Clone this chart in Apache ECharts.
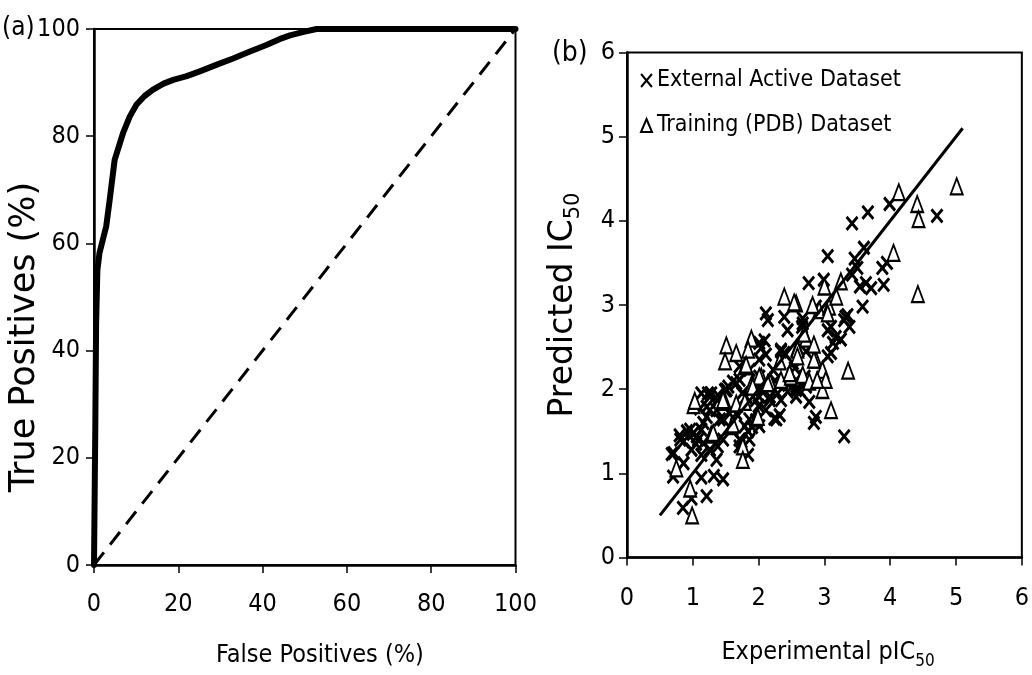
<!DOCTYPE html>
<html>
<head>
<meta charset="utf-8">
<script src="https://cdn.jsdelivr.net/npm/echarts@6.0.0/dist/echarts.min.js"></script>
<style>
  html, body { margin: 0; padding: 0; background: #fff; }
  #chart { width: 1032px; height: 675px; }
</style>
</head>
<body>
<div id="chart"></div>
<script>
// (a) ROC curve (percent)
const rocFalsePos = [0, 0.3, 0.5, 0.8, 1.3, 2.9, 3.7, 4.9, 6.9, 8.5, 10.1, 12, 14, 16.5, 18.8, 22, 25.1, 29, 33, 37, 40.9, 44, 46.5, 50, 52.8, 100];
const rocTruePos  = [0, 25, 45, 55, 58.2, 63.2, 68, 75.6, 80.6, 83.7, 85.9, 87.5, 88.7, 89.8, 90.5, 91.2, 92.1, 93.3, 94.5, 95.8, 97, 98.1, 98.8, 99.5, 100, 100];
const randomLine = [[0, 0], [100, 100]];
const rocTicks = [0, 20, 40, 60, 80, 100];

// (b) experimental vs predicted pIC50
const externalActive = [
  [0.85,0.59],[0.98,0.70],[1.21,0.73],[1.46,0.93],[1.32,0.97],[1.13,0.95],[0.70,0.96],[0.68,1.23],
  [0.86,1.12],[0.98,1.28],[1.08,1.40],[1.13,1.52],[0.91,1.50],[0.86,1.38],[1.26,1.28],[1.36,1.16],
  [1.13,1.22],[1.46,1.40],[1.41,1.64],[1.21,1.67],[1.23,1.95],[1.38,1.93],[1.74,1.38],[1.84,1.22],
  [1.86,1.64],[1.56,1.71],[1.54,2.03],[1.66,2.07],[1.16,1.60],[1.36,1.75],[1.49,1.99],[1.61,2.09],
  [1.71,2.27],[1.84,1.50],[1.71,1.32],[1.96,1.63],[2.04,1.99],[2.11,2.90],[2.17,1.87],[2.24,1.65],
  [2.34,1.87],[2.44,1.97],[2.39,2.43],[2.44,2.70],[2.62,1.99],[2.67,2.84],[2.72,2.45],[2.84,1.60],
  [2.87,2.98],[3.10,2.74],[3.10,2.43],[3.17,2.62],[3.30,1.44],[3.30,2.82],[3.35,2.88],[3.58,2.98],
  [2.11,2.41],[2.01,2.55],[2.22,2.23],[3.42,3.97],[3.66,4.10],[3.99,4.20],[4.71,4.06],[3.05,3.58],
  [3.60,3.68],[3.95,3.50],[3.88,3.44],[3.90,3.24],[3.46,3.55],[3.50,3.44],[3.42,3.36],[3.63,3.26],
  [3.71,3.20],[3.54,3.22],[2.76,3.26],[2.99,3.30],[3.32,2.86],[3.38,2.74],[3.25,2.59],[3.05,2.70],
  [3.05,2.39],[2.66,2.74],[3.13,2.55],[2.14,2.82],[2.39,2.86],[2.67,2.78],[2.09,2.58],[2.01,2.35],
  [2.34,2.45],[2.57,2.11],[1.28,1.95],[1.51,1.99],[1.21,1.79],[2.01,1.91],[2.29,1.95],[2.57,1.91],
  [2.77,1.85],[1.66,1.71],[2.11,1.75],[2.87,1.67],[0.80,1.45],[1.00,1.47],[1.05,1.35],[1.90,1.55],
  [2.00,1.80],[2.45,2.05],[2.55,2.25],[2.70,2.15],[2.25,2.10],[1.75,1.95],
  [1.13,1.95],[1.26,1.91],[1.38,1.87],[1.81,1.91],[1.96,1.87],[2.17,1.91],[2.32,1.69],[1.11,1.77],
  [1.26,1.75],[1.51,1.99],[1.71,2.11],[1.86,2.23],[2.01,2.15],[2.04,2.49],[2.34,2.47],[2.52,2.31],
  [0.96,1.52],[1.06,1.44],[0.81,1.40],[1.16,1.36],[0.71,1.24],[1.38,1.32],[1.71,1.40],[1.86,1.40],
  [2.01,1.56],[2.27,1.64],[1.46,1.64],[1.79,1.56],[2.57,1.99],[2.72,2.03]
];
const trainingPdb = [
  [0.99,0.50],[0.96,0.82],[0.75,1.06],[1.28,1.46],[1.59,1.56],[1.01,1.81],[1.03,1.86],[1.49,1.85],
  [1.66,1.83],[1.79,1.85],[1.76,1.32],[1.76,1.16],[1.96,1.65],[1.51,2.52],[1.49,2.33],[1.66,2.43],
  [1.89,2.60],[1.79,2.27],[1.91,2.07],[2.04,2.15],[2.17,2.09],[2.32,2.33],[2.34,2.11],[2.49,2.15],
  [2.59,2.49],[2.67,2.17],[2.72,2.60],[2.77,2.09],[2.87,2.35],[2.92,2.94],[2.97,2.23],[2.97,1.99],
  [3.02,2.11],[3.07,2.98],[3.10,1.75],[3.36,2.22],[2.57,3.02],[2.39,3.10],[4.42,3.13],[2.82,3.00],
  [4.13,4.34],[4.41,4.20],[4.43,4.02],[5.01,4.41],[4.05,3.62],[3.00,3.22],[3.25,3.28],[3.18,3.10],
  [2.54,3.03],[3.05,2.90],[2.69,2.66],[2.59,2.47],[1.84,2.47],[2.01,2.15],[2.14,2.07],[1.89,2.05],
  [2.84,2.35],[2.47,2.19],[2.89,2.11],[1.46,1.87],[2.84,2.53],[1.81,2.29],
  [1.91,2.03],[1.61,1.58],[1.31,1.48],[2.59,2.39],[1.99,1.67]
];
const fitLine = [[0.5, 0.5], [5.1, 5.1]];
const pic50Ticks = [0, 1, 2, 3, 4, 5, 6];

const NARROW = '"DejaVu Sans Condensed", "Liberation Sans Narrow", sans-serif';
const WIDE = '"DejaVu Sans", sans-serif';
const crossPath = 'path://M0,0L10,12M10,0L0,12';

function axisCommon(ticks, margin) {
  return {
    type: 'value',
    min: ticks[0],
    max: ticks[ticks.length - 1],
    interval: ticks[1] - ticks[0],
    axisLine: { show: true, onZero: false, lineStyle: { color: '#000', width: 2.5 } },
    axisTick: { show: true, inside: false, length: 8, lineStyle: { color: '#000', width: 1.5 } },
    axisLabel: { color: '#000', fontFamily: NARROW, fontSize: 25, margin: margin },
    splitLine: { show: false }
  };
}

const chart = echarts.init(document.getElementById('chart'), null, { renderer: 'canvas' });

const option = {
  backgroundColor: '#fff',
  animation: false,
  grid: [
    { left: 94, top: 29, width: 421.5, height: 536, show: true, borderColor: '#000', borderWidth: 2, backgroundColor: 'transparent' },
    { left: 627, top: 52.5, width: 397, height: 505, show: true, borderColor: '#000', borderWidth: 2, backgroundColor: 'transparent' }
  ],
  xAxis: [
    Object.assign(axisCommon(rocTicks, 27), { gridIndex: 0 }),
    Object.assign(axisCommon(pic50Ticks, 28), { gridIndex: 1 })
  ],
  yAxis: [
    Object.assign(axisCommon(rocTicks, 14), { gridIndex: 0 }),
    Object.assign(axisCommon(pic50Ticks, 12), { gridIndex: 1 })
  ],
  legend: {
    left: 635,
    top: 61,
    orient: 'vertical',
    itemWidth: 11,
    itemHeight: 13,
    itemGap: 16,
    textStyle: { color: '#000', fontFamily: NARROW, fontSize: 23, lineHeight: 29 },
    data: ['External Active Dataset', 'Training (PDB) Dataset']
  },
  series: [
    {
      name: 'random',
      type: 'line',
      xAxisIndex: 0, yAxisIndex: 0,
      data: randomLine,
      symbol: 'none',
      lineStyle: { color: '#000', width: 3, type: [16, 10] }
    },
    {
      name: 'ROC',
      type: 'line',
      xAxisIndex: 0, yAxisIndex: 0,
      data: rocFalsePos.map((x, i) => [x, rocTruePos[i]]),
      symbol: 'none',
      lineStyle: { color: '#000', width: 6, join: 'round', cap: 'round' }
    },
    {
      name: 'fit',
      type: 'line',
      xAxisIndex: 1, yAxisIndex: 1,
      data: fitLine,
      symbol: 'none',
      lineStyle: { color: '#000', width: 3 }
    },
    {
      name: 'External Active Dataset',
      type: 'scatter',
      xAxisIndex: 1, yAxisIndex: 1,
      data: externalActive,
      symbol: crossPath,
      symbolSize: [11, 13],
      itemStyle: { color: 'rgba(0,0,0,0)', borderColor: '#000', borderWidth: 3, opacity: 1 }
    },
    {
      name: 'Training (PDB) Dataset',
      type: 'scatter',
      xAxisIndex: 1, yAxisIndex: 1,
      data: trainingPdb,
      symbol: 'emptyTriangle',
      symbolSize: [12, 16],
      itemStyle: { color: '#000', borderColor: '#000', borderWidth: 2.2, opacity: 1 }
    }
  ],
  graphic: [
    { type: 'text', left: 2, top: 15, style: { text: '(a)', fill: '#000', font: '26px ' + NARROW } },
    { type: 'text', left: 552, top: 40, style: { text: '(b)', fill: '#000', font: '28px ' + NARROW } },
    {
      type: 'text', x: 320, y: 655,
      style: { text: 'False Positives (%)', fill: '#000', font: '25px ' + NARROW, align: 'center', verticalAlign: 'middle' }
    },
    {
      type: 'text', x: 828, y: 652,
      style: {
        text: '{m|Experimental pIC}{s|50}', fill: '#000', align: 'center', verticalAlign: 'middle',
        rich: {
          m: { fontFamily: NARROW, fontSize: 25, lineHeight: 36, verticalAlign: 'middle' },
          s: { fontFamily: NARROW, fontSize: 17, lineHeight: 17, verticalAlign: 'bottom' }
        }
      }
    },
    {
      type: 'text', x: 25, y: 337, rotation: Math.PI / 2,
      style: { text: 'True Positives (%)', fill: '#000', font: '35px ' + WIDE, align: 'center', verticalAlign: 'middle' }
    },
    {
      type: 'text', x: 563, y: 305, rotation: Math.PI / 2,
      style: {
        text: '{m|Predicted IC}{s|50}', fill: '#000', align: 'center', verticalAlign: 'middle',
        rich: {
          m: { fontFamily: WIDE, fontSize: 33, lineHeight: 42, verticalAlign: 'middle' },
          s: { fontFamily: WIDE, fontSize: 21, lineHeight: 21, verticalAlign: 'bottom' }
        }
      }
    }
  ]
};

chart.setOption(option);
</script>
</body>
</html>
